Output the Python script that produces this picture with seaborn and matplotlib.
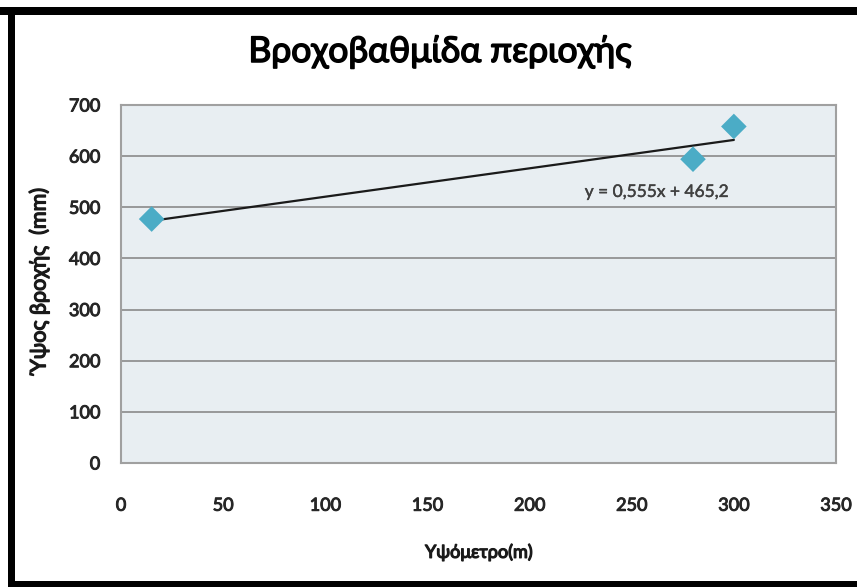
import matplotlib
matplotlib.use("Agg")
import matplotlib.pyplot as plt
import matplotlib.patheffects as pe
from matplotlib.patches import Rectangle
import numpy as np
import pandas as pd
import seaborn as sns

# Rainfall measurements against station altitude
altitude_m = [15, 280, 300]
rainfall_mm = [477, 594, 658]

# Linear trend line coefficients (as shown in the equation label)
slope = 0.555
intercept = 465.2

title_text = "Βροχοβαθμίδα περιοχής"
x_label = "Υψόμετρο(m)"
y_label = "Ύψος βροχής  (mm)"
x_ticks = [0, 50, 100, 150, 200, 250, 300, 350]
y_ticks = [0, 100, 200, 300, 400, 500, 600, 700]

sns.set_theme(style="white")
plt.rcParams["font.family"] = ["Lato", "DejaVu Sans"]


def heavy(width, color):
    """Thicken glyph strokes for a heavier look."""
    return [pe.withStroke(linewidth=width, foreground=color)]


df = pd.DataFrame({"altitude": altitude_m, "rainfall": rainfall_mm})

fig = plt.figure(figsize=(8.57, 5.87), dpi=100)
ax = fig.add_axes([121 / 857, 1 - 463 / 587, (836 - 121) / 857, (463 - 105) / 587])

ax.set_facecolor("#E8EEF2")
ax.set_xlim(0, 350)
ax.set_ylim(0, 700)
ax.set_xticks(x_ticks)
ax.set_yticks(y_ticks)
ax.tick_params(axis="both", length=0, labelsize=13, labelcolor="#262626")
ax.tick_params(axis="x", pad=25)
ax.tick_params(axis="y", pad=15)
for lbl in ax.get_xticklabels() + ax.get_yticklabels():
    lbl.set_path_effects(heavy(0.7, "#262626"))
ax.yaxis.grid(True, color="#8A8A8A", linewidth=1.2)
ax.xaxis.grid(False)
ax.set_axisbelow(True)
for side in ax.spines.values():
    side.set_color("#A0A0A0")
    side.set_linewidth(1.5)

# Trend line drawn from the fitted equation
x_fit = np.array([min(altitude_m), max(altitude_m)])
y_fit = slope * x_fit + intercept
sns.lineplot(x=x_fit, y=y_fit, ax=ax, color="#1a1a1a", linewidth=1.6, zorder=3)

sns.scatterplot(data=df, x="altitude", y="rainfall", ax=ax, marker="D",
                s=170, color="#4BACC6", edgecolor="none", zorder=4)

ax.text(227, 530, f"y = {slope:.3f}x + {intercept:.1f}".replace(".", ","),
        fontsize=12.5, color="#404040", ha="left", va="center",
        path_effects=heavy(0.3, "#404040"))

ax.set_xlabel(x_label, fontsize=13, color="#1a1a1a", labelpad=22,
              path_effects=heavy(0.9, "#1a1a1a"))
ax.set_ylabel(y_label, fontsize=15.5, color="#1a1a1a", labelpad=7,
              path_effects=heavy(0.9, "#1a1a1a"))
ax.yaxis.set_label_coords(-0.1, 0.51)

fig.text(440 / 857, 1 - 52 / 587, title_text, fontsize=25.5, color="#000000",
         ha="center", va="center", path_effects=heavy(1.1, "#000000"))

# Heavy black frame on top, left and bottom edges
fig.patches.append(Rectangle((0, 1 - 15 / 587), 1, 8 / 587, transform=fig.transFigure,
                             facecolor="black", edgecolor="none"))
fig.patches.append(Rectangle((8 / 857, 0), 7 / 857, 1 - 7 / 587, transform=fig.transFigure,
                             facecolor="black", edgecolor="none"))
fig.patches.append(Rectangle((8 / 857, 0), 1, 6 / 587, transform=fig.transFigure,
                             facecolor="black", edgecolor="none"))

fig.savefig("out.png", dpi=100)
